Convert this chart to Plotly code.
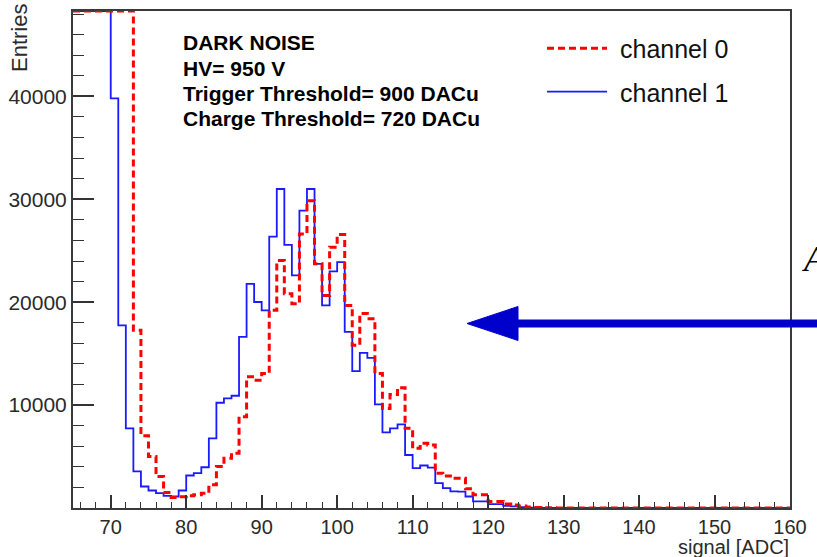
import plotly.graph_objects as go

# ---------------- data ----------------
bin_low_edges = list(range(65, 160))          # 1-ADC wide bins, 65 ... 159
bin_width = 1

channel0_counts = [
    48300, 48300, 48300, 48300, 48300, 48300, 48300, 48300,   # 65-72 (off scale)
    17270, 7030, 5000, 3060, 1500, 1030, 1100, 1200, 1280, 1440,   # 73-82
    2250, 4030, 4840, 5320, 8870, 12750, 12420, 13070,             # 83-90
    19210, 24050, 20820, 19850, 26640, 29870, 23730, 20660,        # 91-98
    25350, 26570, 19690, 15810, 18890, 18400, 13070, 9680,         # 99-106
    11040, 11690, 7740, 5800, 6290, 6130, 3380, 3120,              # 107-114
    2900, 2900, 1860, 1280, 1280, 640, 640, 380,                   # 115-122
    300, 200, 100, 60, 30, 20, 10, 0,                              # 123-130
    0, 0, 0, 0, 0, 0, 0, 0, 0, 0,                                  # 131-140
    0, 0, 0, 0, 0, 0, 0, 0, 0, 0,                                  # 141-150
    0, 0, 0, 0, 0, 0, 0, 0, 0,                                     # 151-159
]

channel1_counts = [
    48300, 48300, 48300, 48300, 48300,                             # 65-69 (off scale)
    39800, 17750, 7740, 3550, 2090, 1700, 1440, 1180, 1120, 1700,  # 70-79
    3160, 3380, 3960, 6770, 10230, 10650, 10910, 16630,            # 80-87
    21790, 20020, 19210, 26380, 31000, 25570, 22600, 28900,        # 88-95
    31000, 23730, 19690, 22990, 23900, 17110, 13300, 15080,        # 96-103
    14590, 10070, 7350, 7740, 8130, 5150, 3870, 4130,              # 104-111
    3930, 2420, 1930, 1610, 1600, 1120, 640, 640,                  # 112-119
    380, 380, 210, 150, 80, 40, 20, 10, 0, 0,                      # 120-129
    0, 0, 0, 0, 0, 0, 0, 0, 0, 0,                                  # 130-139
    0, 0, 0, 0, 0, 0, 0, 0, 0, 0,                                  # 140-149
    0, 0, 0, 0, 0, 0, 0, 0, 0, 0,                                  # 150-159
]

series_names = ["channel 0", "channel 1"]
x_tick_values = [70, 80, 90, 100, 110, 120, 130, 140, 150, 160]
y_tick_values = [10000, 20000, 30000, 40000]
info_lines = ["DARK NOISE", "HV= 950 V",
              "Trigger Threshold= 900 DACu", "Charge Threshold= 720 DACu"]
x_title = "signal [ADC]"
y_title = "Entries"

# ---------------- figure ----------------
W, H = 817, 557
ML, MR, MT, MB = 73, 27, 11, 49
PW, PH = W - ML - MR, H - MT - MB


def px(x):
    return (x - ML) / PW


def py(y):
    return (H - MB - y) / PH


def step_xy(counts):
    xs = bin_low_edges + [bin_low_edges[-1] + bin_width]
    ys = counts + [counts[-1]]
    return xs, ys


fig = go.Figure()
x1, y1 = step_xy(channel1_counts)
fig.add_trace(go.Scatter(x=x1, y=y1, mode="lines", line_shape="hv",
                         name=series_names[1],
                         line=dict(color="#1a1aff", width=1.8)))
x0, y0 = step_xy(channel0_counts)
fig.add_trace(go.Scatter(x=x0, y=y0, mode="lines", line_shape="hv",
                         name=series_names[0],
                         line=dict(color="#ff0000", width=3, dash="7px,4px")))

axis_font = dict(family="Liberation Sans, Arial, sans-serif", size=20, color="#2a2a2a")
ytick_font = dict(family="Liberation Sans, Arial, sans-serif", size=21, color="#2a2a2a")

fig.update_xaxes(range=[65, 160], tickmode="array", tickvals=x_tick_values,
                 automargin=False,
                 ticks="inside", ticklen=13, tickwidth=1.5, tickcolor="#333",
                 minor=dict(tickmode="linear", tick0=0, dtick=2, ticks="inside",
                            ticklen=6, tickwidth=1.3, tickcolor="#333"),
                 showline=True, linecolor="#3a3a3a", linewidth=2, mirror=True,
                 showgrid=False, zeroline=False, tickfont=axis_font)
fig.update_yaxes(range=[0, 48300], tickmode="array", tickvals=y_tick_values,
                 tickformat="d", automargin=False,
                 ticks="inside", ticklen=21, tickwidth=1.5, tickcolor="#333",
                 minor=dict(tickmode="linear", tick0=0, dtick=2000, ticks="inside",
                            ticklen=11, tickwidth=1.3, tickcolor="#333"),
                 showline=True, linecolor="#3a3a3a", linewidth=2, mirror=True,
                 showgrid=False, zeroline=False, tickfont=ytick_font)

annotations = []
# axis titles
annotations.append(dict(text=y_title, textangle=-90, xref="paper", yref="paper",
                        x=px(19), y=py(2), xanchor="center", yanchor="top",
                        showarrow=False,
                        font=dict(family="Liberation Sans, Arial, sans-serif",
                                  size=22, color="#2a2a2a")))
annotations.append(dict(text=x_title, xref="paper", yref="paper",
                        x=px(791), y=py(547), xanchor="right", yanchor="middle",
                        showarrow=False, font=axis_font))
# info text block
for i, line in enumerate(info_lines):
    annotations.append(dict(text="<b>%s</b>" % line, xref="paper", yref="paper",
                            x=px(181), y=py(43 + 25.2 * i), xanchor="left",
                            yanchor="middle", showarrow=False,
                            font=dict(family="Liberation Sans, Arial, sans-serif",
                                      size=21, color="#000000")))
# legend texts
legend_rows = [(series_names[0], 49), (series_names[1], 92.5)]
for name, yc in legend_rows:
    annotations.append(dict(text=name, xref="paper", yref="paper",
                            x=px(618), y=py(yc), xanchor="left", yanchor="middle",
                            showarrow=False,
                            font=dict(family="Liberation Sans, Arial, sans-serif",
                                      size=25, color="#111111")))
# glyph cut by the right edge of the image (as in the reference)
annotations.append(dict(text="<i>A</i>", xref="paper", yref="paper",
                        x=px(800), y=py(259), xanchor="left", yanchor="middle",
                        showarrow=False,
                        font=dict(family="Liberation Serif, serif", size=36,
                                  color="#000000")))

shapes = [
    # legend samples
    dict(type="line", xref="paper", yref="paper", x0=px(547), x1=px(607),
         y0=py(48.3), y1=py(48.3), line=dict(color="#ff0000", width=3, dash="7px,4px")),
    dict(type="line", xref="paper", yref="paper", x0=px(547), x1=px(607),
         y0=py(91.7), y1=py(91.7), line=dict(color="#1a1aff", width=1.8)),
    # big blue arrow
    dict(type="line", xref="paper", yref="paper", x0=px(515), x1=px(830),
         y0=py(323.5), y1=py(323.5), line=dict(color="#0000cd", width=8)),
    dict(type="path", xref="paper", yref="paper",
         path="M %f,%f L %f,%f L %f,%f Z" % (px(467), py(323.5), px(518), py(306.5),
                                              px(518), py(340.5)),
         fillcolor="#0000cd", line=dict(color="#0000cd", width=1)),
]

fig.update_layout(width=W, height=H, margin=dict(l=ML, r=MR, t=MT, b=MB),
                  paper_bgcolor="white", plot_bgcolor="white",
                  showlegend=False, annotations=annotations, shapes=shapes,
                  font=axis_font)

fig.write_html("out.html")
